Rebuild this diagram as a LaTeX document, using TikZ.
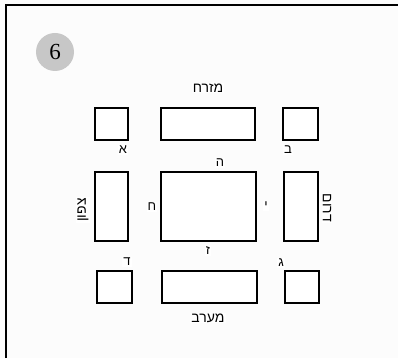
\documentclass[tikz,border=0pt]{standalone}
\usepackage{fontspec}
\newfontfamily\hebfont[Script=Hebrew]{Liberation Sans}
\setmainfont{Liberation Serif}
\TeXXeTstate=1
\usetikzlibrary{positioning}
\newcommand{\heb}[1]{\hebfont\beginR#1\endR}

\begin{document}
\begin{tikzpicture}[x=1pt, y=-1pt,
    seat/.style={draw, line width=1.3pt, inner sep=0pt, fill=white},
    lbl/.style={font=\hebfont\fontsize{13}{15}\selectfont, inner sep=1pt, fill=white},
    side/.style={lbl, font=\hebfont\fontsize{14}{16}\selectfont}]
  %% page and frame
  \useasboundingbox[fill=black!1] (0,0) rectangle (398,358);
  \draw[line width=2.4pt] (6,358) -- (6,5) -- (398,5);
  %% number disc
  \node[circle, fill=black!22, minimum size=38pt, inner sep=0pt,
        font=\fontsize{23}{26}\selectfont] (num) at (55,52) {6};
  %% top row
  \node[seat, minimum width=33pt, minimum height=32pt] (sqA)  at (111.5,124) {};
  \node[seat, minimum width=94pt, minimum height=32pt] (east) at (208,124) {};
  \node[seat, minimum width=35pt, minimum height=32pt] (sqB)  at (300.5,124) {};
  %% middle row
  \node[seat, minimum width=33pt, minimum height=69pt] (north) at (111.5,206.5) {};
  \node[seat, minimum width=95pt, minimum height=69pt] (mid)   at (208.5,206.5) {};
  \node[seat, minimum width=34pt, minimum height=69pt] (south) at (301,206.5) {};
  %% bottom row
  \node[seat, minimum width=35pt, minimum height=32pt] (sqD)  at (114.5,287) {};
  \node[seat, minimum width=95pt, minimum height=32pt] (west) at (209.5,287) {};
  \node[seat, minimum width=34pt, minimum height=32pt] (sqG)  at (302,287) {};
  %% sides
  \node[side] (tEast)  at (208,88)  {\heb{מזרח}};
  \node[side] (tWest)  at (208,318) {\heb{מערב}};
  \node[side, rotate=90]  (tNorth) at (83,210)  {\heb{צפון}};
  \node[side, rotate=-90] (tSouth) at (327,208) {\heb{דרום}};
  %% letters
  \node[lbl] (lA) at (123,150) {\heb{א}};
  \node[lbl] (lB) at (288,150) {\heb{ב}};
  \node[lbl] (lH) at (220,163) {\heb{ה}};
  \node[lbl] (lC) at (152,207) {\heb{ח}};
  \node[lbl] (lY) at (266,206) {\heb{י}};
  \node[lbl] (lZ) at (208,251) {\heb{ז}};
  \node[lbl] (lD) at (127,262) {\heb{ד}};
  \node[lbl] (lG) at (281,263) {\heb{ג}};
\end{tikzpicture}
\end{document}
